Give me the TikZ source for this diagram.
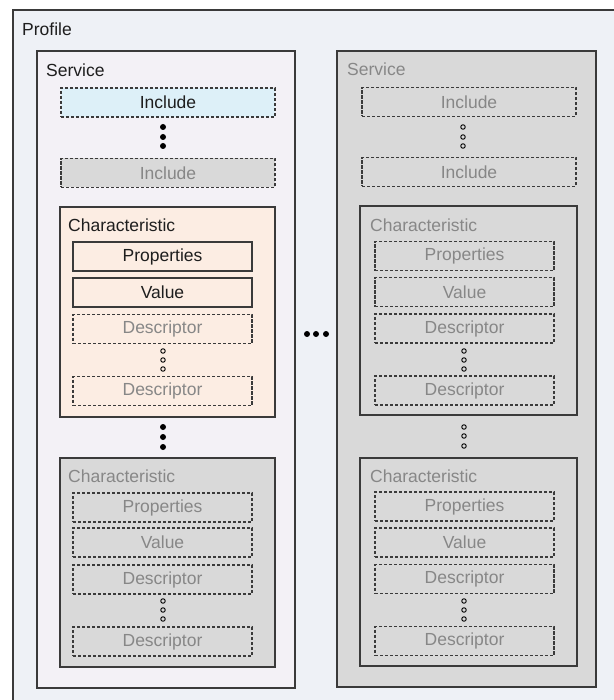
\documentclass[tikz,border=0pt]{standalone}
\usepackage{fontspec}
\setmainfont{Liberation Sans}

\definecolor{profilebg}{HTML}{EEF1F6}
\definecolor{servicebg}{HTML}{F3F1F6}
\definecolor{greybg}{HTML}{D9D9D9}
\definecolor{inclblue}{HTML}{DDF0F8}
\definecolor{charpeach}{HTML}{FCEDE3}
\definecolor{edge}{HTML}{3A3A3A}
\definecolor{faint}{HTML}{878787}
\definecolor{ink}{HTML}{1E1E1E}

\tikzset{
  lbl/.style={anchor=west, inner sep=0pt, font=\fontsize{17.5}{19}\selectfont},
  frame/.style={draw=edge, line width=1.4pt, inner sep=0pt},
  field/.style={draw=edge, line width=1.2pt, inner sep=0pt, minimum width=179pt,
    minimum height=29pt, font=\fontsize{17.5}{19}\selectfont},
  dashfield/.style={field, line width=1.4pt, dash pattern=on 3.2pt off 1.8pt, text=faint},
  bigdot/.style={circle, fill=black, inner sep=0pt, minimum size=6pt},
  ringdot/.style={circle, draw=black, line width=0.9pt, inner sep=0pt, minimum size=4.5pt}
}

\begin{document}
\begin{tikzpicture}[x=1pt, y=-1pt]
        % Fondo e cornice
        \fill[white] (0,0) rectangle (613,700);
        \useasboundingbox (0,0) rectangle (613,700);

        % Profilo
        \node[frame, fill=profilebg, minimum width=640pt, minimum height=710pt] (profile) at (333,365) {};
        \node[lbl, text=ink] (profileLbl) at (22,29) {Profile};

        % Servizio di sinistra
        \node[frame, fill=servicebg, minimum width=258pt, minimum height=637pt] (servA) at (166,369.5) {};
        \node[lbl, text=ink] (servALbl) at (46,70) {Service};

        \node[field, line width=1.4pt, dash pattern=on 3.2pt off 1.8pt, fill=inclblue, text=ink, minimum width=214pt] (inclA1) at (168,102.5) {Include};
        \foreach \y [count=\i] in {127,137,146}
          \node[bigdot] (inclAdot\i) at (163,\y) {};
        \node[dashfield, fill=greybg, minimum width=214pt] (inclA2) at (168,173) {Include};

        % Caratteristica attiva
        \node[frame, fill=charpeach, minimum width=215pt, minimum height=210pt] (charA1) at (167.5,312) {};
        \node[lbl, text=ink] (charA1Lbl) at (68,225) {Characteristic};
        \node[field, text=ink] (propA1) at (162.5,256.5) {Properties};
        \node[field, text=ink] (valA1) at (162.5,292.5) {Value};
        \node[dashfield] (descA1a) at (162.5,329) {Descriptor};
        \foreach \y [count=\i] in {351,360,369}
          \node[ringdot] (descA1dot\i) at (163,\y) {};
        \node[dashfield] (descA1b) at (162.5,391) {Descriptor};

        \foreach \y [count=\i] in {427,437,447}
          \node[bigdot] (charAdot\i) at (163,\y) {};

        % Caratteristica inattiva
        \node[frame, fill=greybg, minimum width=215pt, minimum height=209pt] (charA2) at (167.5,562.5) {};
        \node[lbl, text=faint] (charA2Lbl) at (68,476) {Characteristic};
        \node[dashfield] (propA2) at (162.5,507.5) {Properties};
        \node[dashfield] (valA2) at (162.5,542.5) {Value};
        \node[dashfield] (descA2a) at (162.5,579.5) {Descriptor};
        \foreach \y [count=\i] in {601,610,619}
          \node[ringdot] (descA2dot\i) at (163,\y) {};
        \node[dashfield] (descA2b) at (162.5,641.5) {Descriptor};

        % Puntini tra i servizi
        \foreach \x [count=\i] in {307,316,326}
          \node[bigdot] (servdot\i) at (\x,334) {};

        % Servizio di destra
        \node[frame, fill=greybg, minimum width=259pt, minimum height=636pt] (servB) at (466.5,369) {};
        \node[lbl, text=faint] (servBLbl) at (347,69) {Service};

        \node[dashfield, minimum width=214pt] (inclB1) at (469,102) {Include};
        \foreach \y [count=\i] in {127,137,146}
          \node[ringdot] (inclBdot\i) at (463,\y) {};
        \node[dashfield, minimum width=214pt] (inclB2) at (469,172) {Include};

        \node[frame, minimum width=217pt, minimum height=209pt] (charB1) at (468.5,310.5) {};
        \node[lbl, text=faint] (charB1Lbl) at (370,225) {Characteristic};
        \node[dashfield] (propB1) at (464.5,256) {Properties};
        \node[dashfield] (valB1) at (464.5,292) {Value};
        \node[dashfield] (descB1a) at (464.5,328.5) {Descriptor};
        \foreach \y [count=\i] in {351,360,369}
          \node[ringdot] (descB1dot\i) at (464,\y) {};
        \node[dashfield] (descB1b) at (464.5,390.5) {Descriptor};

        \foreach \y [count=\i] in {427,436,446}
          \node[ringdot] (charBdot\i) at (464,\y) {};

        \node[frame, minimum width=217pt, minimum height=208pt] (charB2) at (468.5,562) {};
        \node[lbl, text=faint] (charB2Lbl) at (370,476) {Characteristic};
        \node[dashfield] (propB2) at (464.5,506.5) {Properties};
        \node[dashfield] (valB2) at (464.5,542.5) {Value};
        \node[dashfield] (descB2a) at (464.5,579) {Descriptor};
        \foreach \y [count=\i] in {601,610,619}
          \node[ringdot] (descB2dot\i) at (464,\y) {};
        \node[dashfield] (descB2b) at (464.5,641) {Descriptor};

    \end{tikzpicture}
\end{document}
